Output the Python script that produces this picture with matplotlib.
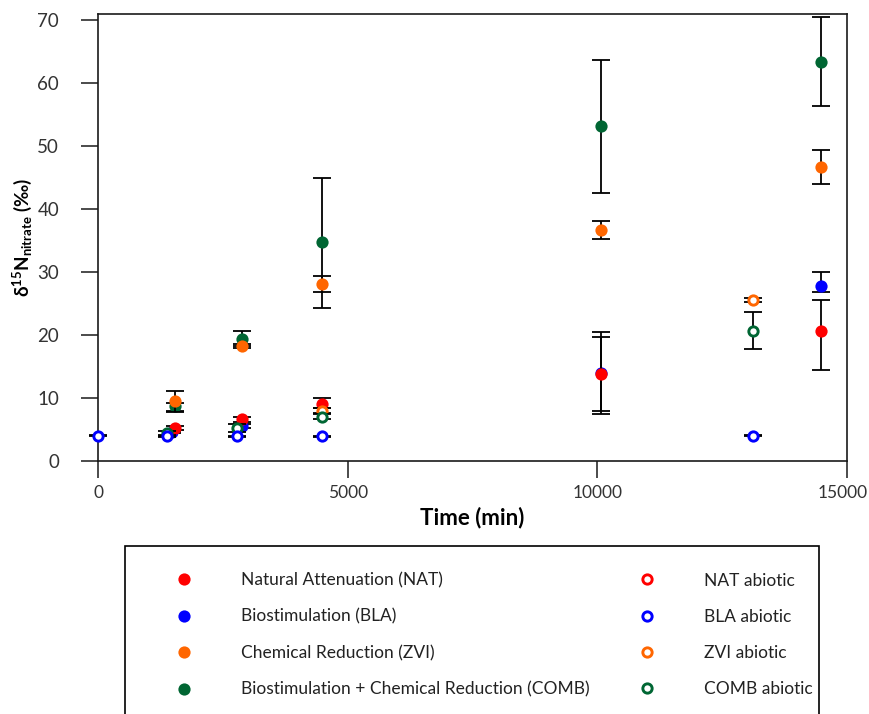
import matplotlib

matplotlib.use("Agg")
import matplotlib.pyplot as plt
from matplotlib.lines import Line2D
from matplotlib.patches import Rectangle
from matplotlib.transforms import ScaledTranslation

plt.rcParams["font.family"] = ["Lato", "DejaVu Sans"]
plt.rcParams["mathtext.fontset"] = "custom"
plt.rcParams["mathtext.rm"] = "Lato"
plt.rcParams["mathtext.bf"] = "Lato:bold"
plt.rcParams["mathtext.default"] = "bf"

# treated microcosms (filled markers)
nat_t = [1550, 2880, 4480, 10080, 14470]
nat_y = [5.3, 6.6, 9.0, 13.8, 20.6]
nat_lo = [0.3, 0.4, 0.6, 5.9, 6.2]
nat_hi = [0.3, 0.4, 1.0, 5.9, 4.9]

bla_t = [1480, 2880, 10080, 14470]
bla_y = [4.6, 5.6, 14.0, 27.8]
bla_lo = [0.2, 0.3, 6.6, 1.0]
bla_hi = [0.2, 0.3, 6.4, 2.2]

zvi_t = [1550, 2880, 4480, 10080, 14470]
zvi_y = [9.5, 18.3, 28.1, 36.7, 46.7]
zvi_lo = [1.7, 0.3, 1.2, 1.5, 2.7]
zvi_hi = [1.6, 0.3, 1.2, 1.4, 2.7]

comb_t = [1550, 2880, 4480, 10080, 14470]
comb_y = [8.7, 19.4, 34.7, 53.1, 63.3]
comb_lo = [0.8, 1.1, 10.4, 10.6, 7.0]
comb_hi = [0.5, 1.2, 10.2, 10.6, 7.1]

# abiotic controls (open markers)
zvi_ab_t = [4480, 13120]
zvi_ab_y = [8.0, 25.6]
zvi_ab_err = [0.4, 0.3]

comb_ab_t = [1390, 2790, 4480, 13120]
comb_ab_y = [4.4, 5.2, 7.0, 20.7]
comb_ab_err = [0.3, 0.6, 0.4, 3.0]

bla_ab_t = [0, 1390, 2790, 4480, 13120]
bla_ab_y = [4.0, 3.9, 3.9, 3.9, 4.0]
bla_ab_err = [0.1, 0.1, 0.1, 0.1, 0.1]

RED = "#FF0000"
BLUE = "#0000FF"
ORANGE = "#FF6600"
GREEN = "#006633"

W, H = 869, 714
fig = plt.figure(figsize=(W / 100, H / 100), dpi=100)
ax = fig.add_axes([98 / W, 1 - 461 / H, (847 - 98) / W, (461 - 13.7) / H])

filled = dict(marker="o", markersize=8.8, markeredgewidth=0, linestyle="none")
hollow = dict(marker="o", markersize=6.7, markeredgewidth=2.1, markerfacecolor="white",
              linestyle="none")


def series(t, y, err, color, style, z):
    # error bars first, then the markers on top of them
    ax.errorbar(t, y, yerr=err, fmt="none", ecolor="black", elinewidth=1.3,
                capsize=6.8, capthick=1.3, zorder=z, clip_on=False)
    ax.plot(t, y, color=color, markeredgecolor=color, zorder=z + 0.5, clip_on=False, **style)


series(bla_t, bla_y, [bla_lo, bla_hi], BLUE, filled, 3)
series(comb_t, comb_y, [comb_lo, comb_hi], GREEN, filled, 4)
series(nat_t, nat_y, [nat_lo, nat_hi], RED, filled, 5)
series(zvi_t, zvi_y, [zvi_lo, zvi_hi], ORANGE, filled, 6)
series(zvi_ab_t, zvi_ab_y, zvi_ab_err, ORANGE, hollow, 7)
series(comb_ab_t, comb_ab_y, comb_ab_err, GREEN, hollow, 8)
series(bla_ab_t, bla_ab_y, bla_ab_err, BLUE, hollow, 9)

ax.set_xlim(0, 15000)
ax.set_ylim(0, 71)
ax.set_xticks([0, 5000, 10000, 15000])
ax.set_yticks(range(0, 71, 10))
for s in ax.spines.values():
    s.set_linewidth(1.2)
    s.set_color("#1a1a1a")
ax.tick_params(axis="both", direction="out", length=12, width=1.1, labelsize=13.5,
               color="#1a1a1a", labelcolor="#333333")
ax.tick_params(axis="y", pad=16)
ax.tick_params(axis="x", pad=5, labelsize=12.5)
# nudge the last x label so it stays inside the picture
last = ax.get_xticklabels()[-1]
last.set_transform(last.get_transform() + ScaledTranslation(-4 / 100, 0, fig.dpi_scale_trans))

ax.set_xlabel("Time (min)", fontsize=16, fontweight="bold", labelpad=4)
ax.set_ylabel("δ$^{15}$N$_{nitrate}$ (‰)", fontsize=13.5, fontweight="bold")
ax.yaxis.set_label_coords(-0.086, 0.5)

# legend box (runs past the bottom edge like the original)
fig.patches.append(Rectangle((125 / W, -0.05), (819 - 125) / W, 1 - 546 / H + 0.05,
                             transform=fig.transFigure, facecolor="white",
                             edgecolor="black", linewidth=1.2))

col1 = [
    ("Natural Attenuation (NAT)", RED),
    ("Biostimulation (BLA)", BLUE),
    ("Chemical Reduction (ZVI)", ORANGE),
    ("Biostimulation + Chemical Reduction (COMB)", GREEN),
]
col2 = [
    ("NAT abiotic", RED),
    ("BLA abiotic", BLUE),
    ("ZVI abiotic", ORANGE),
    ("COMB abiotic", GREEN),
]
fs = 12.5
fs_px = fs * 100 / 72
hl = 2.0
htp = (57 - hl * fs_px / 2) / fs_px
leg_kw = dict(loc="center left", frameon=False, fontsize=fs, handlelength=hl,
              handletextpad=htp, labelspacing=1.17, borderpad=0, borderaxespad=0,
              bbox_transform=fig.transFigure, labelcolor="#222222")

h1 = [Line2D([], [], color=c, **filled) for _, c in col1]
h2 = [Line2D([], [], color=c, markeredgecolor=c, **hollow) for _, c in col2]
mid_y = 1 - 635 / H
fig.legend(h1, [l for l, _ in col1], bbox_to_anchor=((184 - hl * fs_px / 2) / W, mid_y), **leg_kw)
fig.legend(h2, [l for l, _ in col2], bbox_to_anchor=((647 - hl * fs_px / 2) / W, mid_y), **leg_kw)

fig.savefig("out.png", dpi=100)
